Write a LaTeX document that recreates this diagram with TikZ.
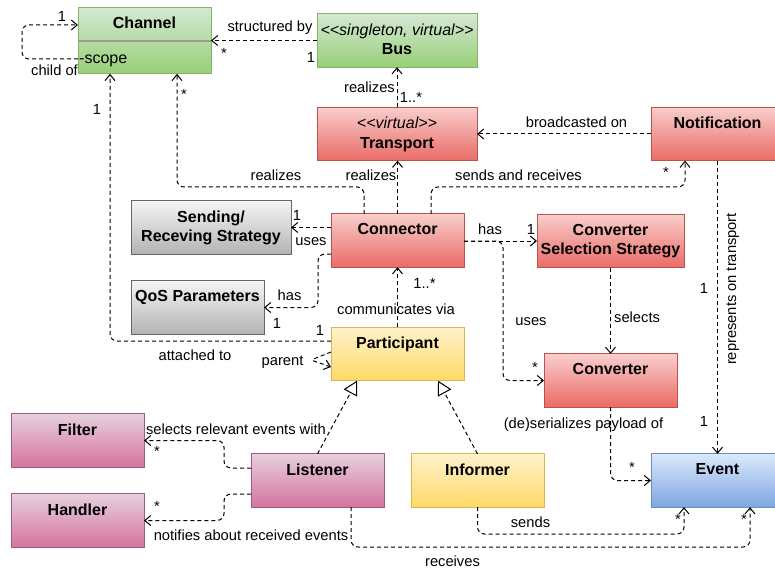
\documentclass[tikz,border=0pt]{standalone}
\usepackage{fontspec}
\setmainfont{Liberation Sans}
\usetikzlibrary{arrows.meta}

\definecolor{grnTop}{HTML}{D5E8D4}\definecolor{grnBot}{HTML}{97D077}\definecolor{grnLine}{HTML}{82B366}
\definecolor{redTop}{HTML}{F8CECC}\definecolor{redBot}{HTML}{EA6B66}\definecolor{redLine}{HTML}{B85450}
\definecolor{gryTop}{HTML}{F5F5F5}\definecolor{gryBot}{HTML}{B3B3B3}\definecolor{gryLine}{HTML}{666666}
\definecolor{ylwTop}{HTML}{FFF2CC}\definecolor{ylwBot}{HTML}{FFD966}\definecolor{ylwLine}{HTML}{D6B656}
\definecolor{pnkTop}{HTML}{E6D0DE}\definecolor{pnkBot}{HTML}{D5739D}\definecolor{pnkLine}{HTML}{996185}
\definecolor{bluTop}{HTML}{DAE8FC}\definecolor{bluBot}{HTML}{7EA6E0}\definecolor{bluLine}{HTML}{6C8EBF}

\tikzset{
  box/.style={draw,line width=1pt,inner sep=0pt,outer sep=0pt,minimum width=133pt,minimum height=53.3pt},
  grnbox/.style={box,draw=grnLine,top color=grnTop,bottom color=grnBot},
  redbox/.style={box,draw=redLine,top color=redTop,bottom color=redBot},
  grybox/.style={box,draw=gryLine,top color=gryTop,bottom color=gryBot},
  ylwbox/.style={box,draw=ylwLine,top color=ylwTop,bottom color=ylwBot},
  pnkbox/.style={box,draw=pnkLine,top color=pnkTop,bottom color=pnkBot},
  blubox/.style={box,draw=bluLine,top color=bluTop,bottom color=bluBot},
  ttl/.style={anchor=north,inner sep=0pt,yshift=-9.7pt,align=center,font=\fontsize{16}{19.5}\selectfont\bfseries},
  attr/.style={anchor=west,inner sep=0pt,xshift=1pt,yshift=-20.5pt,font=\fontsize{16}{19}\selectfont},
  lbl/.style={inner sep=0pt,font=\fontsize{14.7}{17}\selectfont},
  dep/.style={line width=1pt,dash pattern=on 4pt off 3pt,rounded corners=7pt,
    -{Straight Barb[length=6pt,width=10pt,line width=1pt]}},
  real/.style={line width=1pt,dash pattern=on 4pt off 3pt,
    -{Triangle[open,length=14pt,width=15pt,line width=1pt]}}
}

\begin{document}
\begin{tikzpicture}
	\useasboundingbox (0,0) rectangle (775pt,-569pt);
	%classes
	\node[grnbox,minimum height=66.7pt,label={[ttl]north:Channel},label={[attr]west:-scope}] (channel) at (144.5pt,-40.5pt) {};
	\draw[gray!80,line width=1.3pt] (channel.west |- 0,-41pt) -- (channel.east |- 0,-41pt);
	\node[grnbox,minimum width=160pt,label={[ttl]north:{{\mdseries\itshape <\kern0pt<singleton, virtual>\kern0pt>}\\Bus}}] (bus) at (397pt,-40.5pt) {};
	\node[redbox,minimum width=160pt,label={[ttl]north:{{\mdseries\itshape <\kern0pt<virtual>\kern0pt>}\\Transport}}] (transport) at (397pt,-134pt) {};
	\node[redbox,label={[ttl]north:Notification}] (notification) at (717.5pt,-134pt) {};
	\node[redbox,label={[ttl]north:Connector}] (connector) at (397.5pt,-240.5pt) {};
	\node[grybox,minimum width=160pt,label={[ttl]north:{Sending/\\Receving Strategy}}] (sending) at (211pt,-227.5pt) {};
	\node[grybox,label={[ttl]north:QoS Parameters}] (qos) at (197.5pt,-307.5pt) {};
	\node[ylwbox,label={[ttl]north:Participant}] (participant) at (397.5pt,-354pt) {};
	\node[redbox,minimum width=147pt,label={[ttl]north:{Converter\\Selection Strategy}}] (css) at (610.5pt,-241pt) {};
	\node[redbox,label={[ttl]north:Converter}] (converter) at (610.5pt,-380.5pt) {};
	\node[pnkbox,label={[ttl]north:Filter}] (filter) at (77.5pt,-440.5pt) {};
	\node[pnkbox,label={[ttl]north:Handler}] (handler) at (77.5pt,-520.5pt) {};
	\node[pnkbox,label={[ttl]north:Listener}] (listener) at (317.5pt,-480.5pt) {};
	\node[ylwbox,label={[ttl]north:Informer}] (informer) at (477.5pt,-480.5pt) {};
	\node[blubox,label={[ttl]north:Event}] (event) at (717.5pt,-480.5pt) {};
	%channel relations
	\draw[dep] (channel.west |- 0,-59pt) -| (22pt,-25pt) -- (channel.west |- 0,-25pt);
	\node[lbl] (l1) at (62pt,-16pt) {1};
	\node[lbl] (l2) at (54.5pt,-70pt) {child of};
	\draw[dep] (bus.west) -- (channel.east);
	\node[lbl] (l3) at (270pt,-28pt) {structured by};
	\node[lbl] (l4) at (224pt,-53pt) {*};
	\node[lbl] (l5) at (311pt,-57pt) {1};
	%transport and notification
	\draw[dep] (transport.north) -- (bus.south);
	\node[lbl] (l6) at (369.5pt,-87pt) {realizes};
	\node[lbl] (l7) at (411pt,-97pt) {1..*};
	\draw[dep] (notification.west) -- (transport.east);
	\node[lbl] (l8) at (576.5pt,-122pt) {broadcasted on};
	%connector
	\draw[dep] (connector.north -| 364pt,0) |- (177pt,-187pt) -- (channel.south -| 177pt,0);
	\node[lbl] (l9) at (276pt,-175pt) {realizes};
	\node[lbl] (l10) at (184pt,-94pt) {*};
	\draw[dep] (connector.north) -- (connector.north |- transport.south);
	\node[lbl] (l11) at (371pt,-175pt) {realizes};
	\draw[dep] (connector.north -| 431pt,0) |- (685pt,-187pt) -- (notification.south -| 685pt,0);
	\node[lbl] (l12) at (518.5pt,-175pt) {sends and receives};
	\node[lbl] (l13) at (666pt,-172pt) {*};
	\draw[dep] (connector.west |- sending.east) -- (sending.east);
	\node[lbl] (l14) at (297pt,-215pt) {1};
	\node[lbl] (l15) at (311pt,-242pt) {uses};
	\draw[dep] (connector.west |- 0,-254pt) -| (qos.east -| 318pt,0) -- (qos.east);
	\node[lbl] (l16) at (289.5pt,-295pt) {has};
	\node[lbl] (l17) at (277pt,-323pt) {1};
	\draw[dep] (connector.east |- css.west) -- (css.west);
	\node[lbl] (l18) at (490pt,-229pt) {has};
	\node[lbl] (l19) at (531pt,-229pt) {1};
	\draw[dep] (connector.east |- css.west) -| (converter.west -| 503pt,0) -- (converter.west);
	\node[lbl] (l20) at (531pt,-322pt) {uses};
	\node[lbl] (l21) at (535pt,-367pt) {*};
	\draw[dep] (css.south) -- (converter.north);
	\node[lbl,anchor=west] (l22) at (614pt,-317pt) {selects};
	%participant
	\draw[dep] (participant.north) -- (connector.south);
	\node[lbl] (l23) at (424.5pt,-283pt) {1..*};
	\node[lbl] (l24) at (396pt,-309pt) {communicates via};
	\draw[dep] (participant.west |- 0,-341pt) -| (channel.south -| 110pt,0);
	\node[lbl] (l25) at (97pt,-109pt) {1};
	\node[lbl] (l26) at (320pt,-330pt) {1};
	\node[lbl] (l27) at (195pt,-355pt) {attached to};
	\draw[dep,rounded corners=3pt] (participant.west |- 0,-352pt) -- (311pt,-360pt) -- (participant.west |- 0,-367pt);
	\node[lbl] (l28) at (282.5pt,-362pt) {parent};
	\draw[real] (listener.north) -- (participant.south -| 357pt,0);
	\draw[real] (informer.north) -- (participant.south -| 438pt,0);
	%events
	\draw[dep] (notification.south) -- (event.north);
	\node[lbl,rotate=90] (l29) at (733pt,-289pt) {represents on transport};
	\node[lbl] (l30) at (704pt,-288pt) {1};
	\node[lbl] (l31) at (704pt,-421pt) {1};
	\draw[dep] (converter.south) |- (event.west);
	\node[lbl] (l32) at (583.5pt,-425pt) {(de)serializes payload of};
	\node[lbl] (l33) at (632pt,-467pt) {*};
	\draw[dep] (informer.south) -- (informer.south |- 0,-534pt) -| (event.south -| 684pt,0);
	\node[lbl] (l34) at (530.5pt,-522pt) {sends};
	\node[lbl] (l35) at (678pt,-519pt) {*};
	\draw[dep] (listener.south -| 351pt,0) -- (351pt,-547pt) -| (event.south -| 750pt,0);
	\node[lbl] (l36) at (452.5pt,-561.5pt) {receives};
	\node[lbl] (l37) at (744pt,-519pt) {*};
	%listener
	\draw[dep] (listener.west |- 0,-468pt) -| (filter.east -| 224pt,0) -- (filter.east);
	\node[lbl] (l38) at (236pt,-429pt) {selects relevant events with};
	\node[lbl] (l39) at (157pt,-451pt) {*};
	\draw[dep] (listener.west |- 0,-494pt) -| (handler.east -| 224pt,0) -- (handler.east);
	\node[lbl] (l40) at (251pt,-535pt) {notifies about received events};
	\node[lbl] (l41) at (157pt,-506pt) {*};
\end{tikzpicture}
\end{document}
